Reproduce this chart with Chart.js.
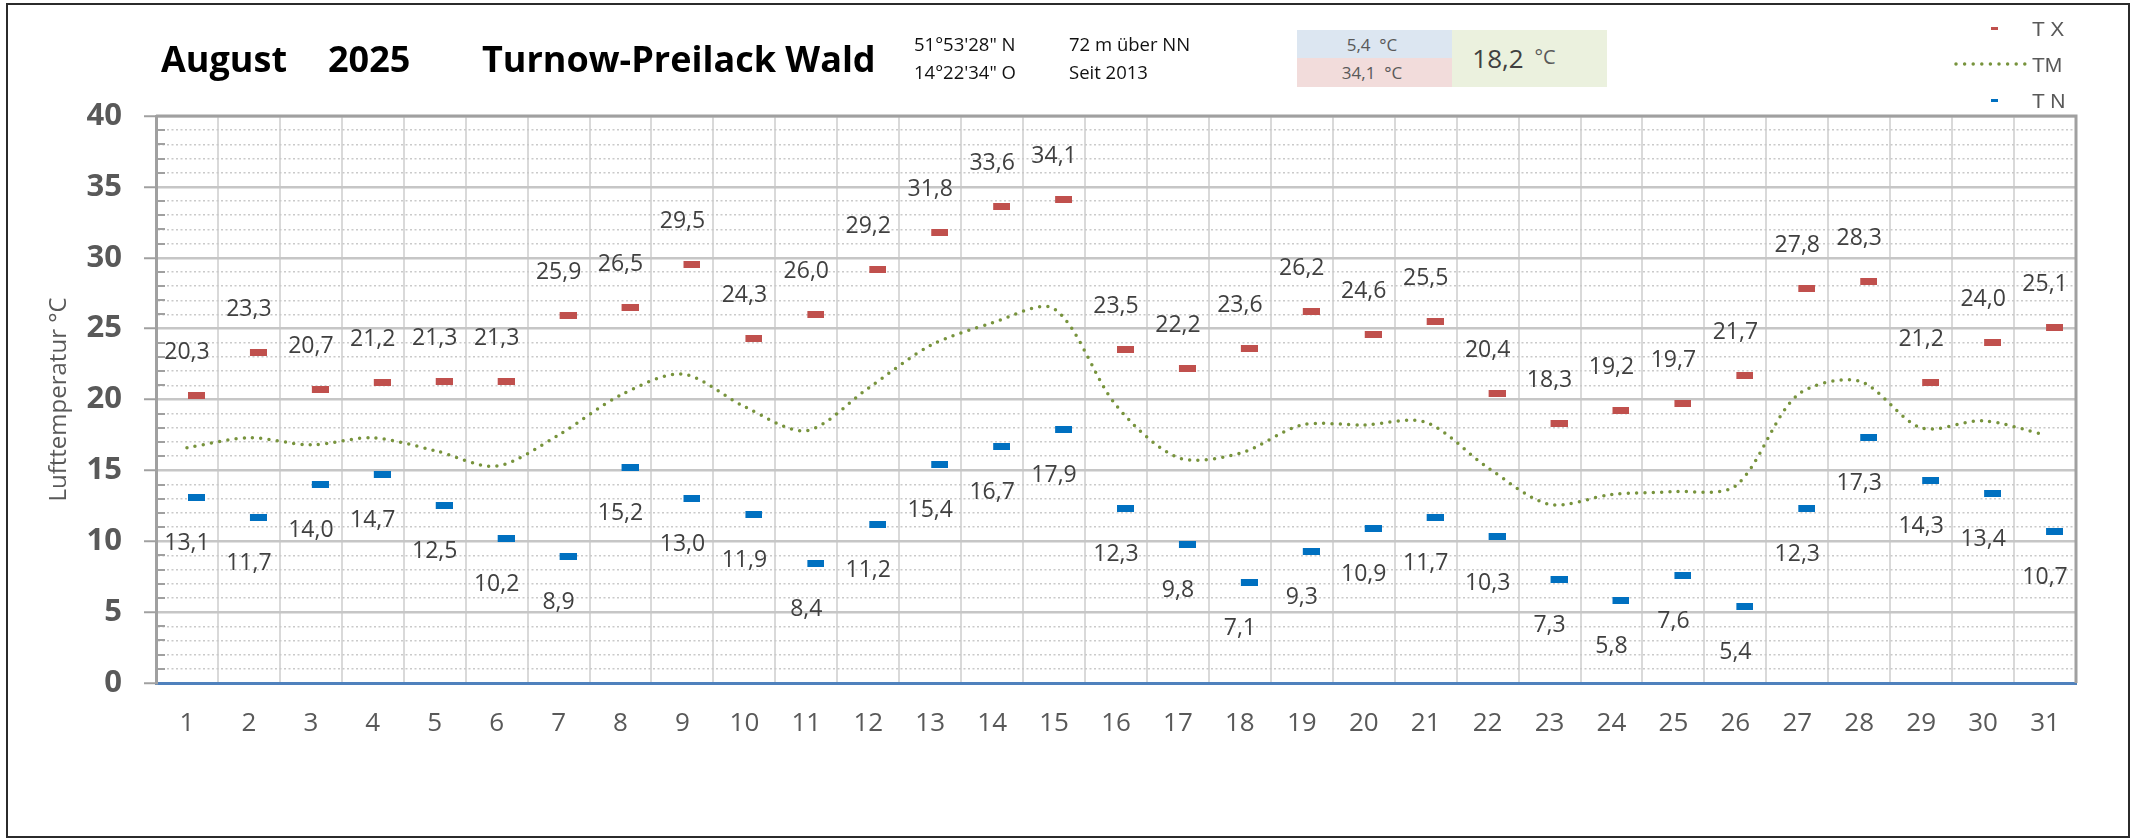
<!DOCTYPE html>
<html>
<head>
<meta charset="utf-8">
<script src="https://cdn.jsdelivr.net/npm/chart.js@4.4.1/dist/chart.umd.min.js"></script>
<style>
  body { margin: 0; background: #fff; }
  #wrap { position: relative; width: 2140px; height: 839px; overflow: hidden; font-family: 'Open Sans', sans-serif; }
  #frame { position: absolute; left: 6px; top: 3px; width: 2124px; height: 835px; box-sizing: border-box; border: 2px solid #2b2b2b; pointer-events: none; }
  .t { position: absolute; white-space: pre; line-height: 1; transform: translateY(-50%); }
  .title { font-size: 36px; font-weight: bold; color: #000; }
  .info { font-size: 18.5px; color: #111; }
  .cell { position: absolute; }
  .cell span { position: absolute; white-space: pre; line-height: 1; transform: translate(-50%, -50%); color: #595959; }
  .leg { font-family: 'Liberation Sans', Arial, sans-serif; font-size: 21px; color: #595959; }
  .mk { position: absolute; width: 7px; height: 3px; }
</style>
</head>
<body>
<div id="wrap">
  <canvas id="tempChart" width="2140" height="839"></canvas>
  <div id="header"></div>
  <div id="frame"></div>
</div>
<script>
const days = ['1','2','3','4','5','6','7','8','9','10','11','12','13','14','15','16',
              '17','18','19','20','21','22','23','24','25','26','27','28','29','30','31'];

// T X (max)
const tx = [20.3, 23.3, 20.7, 21.2, 21.3, 21.3, 25.9, 26.5, 29.5, 24.3, 26.0, 29.2, 31.8, 33.6, 34.1, 23.5,
            22.2, 23.6, 26.2, 24.6, 25.5, 20.4, 18.3, 19.2, 19.7, 21.7, 27.8, 28.3, 21.2, 24.0, 25.1];

// TM (mean)
const tm = [16.6, 17.3, 16.8, 17.3, 16.4, 15.3, 17.5, 20.3, 21.8, 19.5, 17.8, 20.8, 23.8, 25.4, 26.4, 19.6,
            15.9, 16.2, 18.2, 18.2, 18.4, 15.2, 12.6, 13.3, 13.5, 13.9, 20.3, 21.3, 18.0, 18.5, 17.5];

// T N (min)
const tn = [13.1, 11.7, 14.0, 14.7, 12.5, 10.2, 8.9, 15.2, 13.0, 11.9, 8.4, 11.2, 15.4, 16.7, 17.9, 12.3,
            9.8, 7.1, 9.3, 10.9, 11.7, 10.3, 7.3, 5.8, 7.6, 5.4, 12.3, 17.3, 14.3, 13.4, 10.7];

const seriesNames = ['T X', 'TM', 'T N'];
const titleParts = ['August', '2025', 'Turnow-Preilack Wald'];
const coordLines = ['51°53\'28" N', '14°22\'34" O'];
const siteLines = ['72 m über NN', 'Seit 2013'];
const monthMean = '18,2';
const yAxisTitle = 'Lufttemperatur °C';

const RED = '#C0504D';
const BLUE = '#0070C0';
const GREEN = '#77933C';

function fmt(v) {
    return v.toFixed(1).replace('.', ',');
}

// header: title, station info, summary box, legend
function buildHeader() {
    const h = document.getElementById('header');
    let html = '';
    const titleX = [161, 328, 482];
    titleParts.forEach((s, i) => {
        html += `<div class="t title" style="left:${titleX[i]}px;top:59px">${s}</div>`;
    });
    coordLines.forEach((s, i) => {
        html += `<div class="t info" style="left:914px;top:${44 + i * 28}px">${s}</div>`;
    });
    siteLines.forEach((s, i) => {
        html += `<div class="t info" style="left:1069px;top:${44 + i * 28}px">${s}</div>`;
    });

    const lo = fmt(Math.min(...tn));
    const hi = fmt(Math.max(...tx));
    html += `<div class="cell" style="left:1297px;top:30px;width:155px;height:28px;background:#DCE6F1">
               <span style="left:75px;top:14px;font-size:17px">${lo}  °C</span></div>`;
    html += `<div class="cell" style="left:1297px;top:58px;width:155px;height:29px;background:#F2DCDB">
               <span style="left:75px;top:14px;font-size:17px">${hi}  °C</span></div>`;
    html += `<div class="cell" style="left:1452px;top:30px;width:155px;height:57px;background:#EBF1DE">
               <span style="left:46px;top:28px;font-size:26px;color:#404040">${monthMean}</span>
               <span style="left:93px;top:27px;font-size:20px">°C</span></div>`;

    // legend
    html += `<div class="mk" style="left:1991px;top:27px;background:${RED}"></div>`;
    html += `<svg style="position:absolute;left:1952px;top:58px" width="80" height="12">
               <line x1="4" y1="6" x2="74" y2="6" stroke="${GREEN}" stroke-width="3.5"
                     stroke-linecap="round" stroke-dasharray="0 8.6"/></svg>`;
    html += `<div class="mk" style="left:1991px;top:99px;background:${BLUE}"></div>`;
    [28, 64, 100].forEach((y, i) => {
        html += `<div class="t leg" style="left:2032px;top:${y}px">${seriesNames[i]}</div>`;
    });
    h.innerHTML = html;
}

// dash shaped marker, drawn a little right of the category centre like in the sheet
function dashMarker(color) {
    const c = document.createElement('canvas');
    c.width = 36;
    c.height = 7;
    const g = c.getContext('2d');
    g.fillStyle = color;
    g.fillRect(19, 0, 17, 7);
    return c;
}

const valueLabels = {
    id: 'valueLabels',
    afterDatasetsDraw(chart) {
        const ctx = chart.ctx;
        ctx.save();
        ctx.font = '23px "Open Sans"';
        ctx.fillStyle = '#404040';
        ctx.textAlign = 'center';
        ctx.textBaseline = 'middle';
        chart.data.datasets.forEach((ds, i) => {
            if (!ds.labelShift) return;
            chart.getDatasetMeta(i).data.forEach((pt, j) => {
                ctx.fillText(fmt(ds.data[j]), pt.x, pt.y + ds.labelShift);
            });
        });
        ctx.restore();
    }
};

const plotFrame = {
    id: 'plotFrame',
    beforeDatasetsDraw(chart) {
        const {ctx, chartArea: a} = chart;
        const y = chart.scales.y;
        ctx.save();
        ctx.strokeStyle = '#A0A0A0';
        ctx.lineWidth = 3;
        ctx.beginPath();
        ctx.moveTo(a.left, a.top);
        ctx.lineTo(a.right, a.top);
        ctx.lineTo(a.right, a.bottom);
        ctx.stroke();
        // short inner ticks for the 1 degree steps
        ctx.lineWidth = 2;
        ctx.beginPath();
        y.ticks.forEach(t => {
            if (t.value % 5 !== 0) {
                const py = Math.round(y.getPixelForValue(t.value));
                ctx.moveTo(a.left, py);
                ctx.lineTo(a.left + 9, py);
            }
        });
        ctx.stroke();
        ctx.restore();
    }
};

const isMajor = c => c.tick && c.tick.value % 5 === 0;

buildHeader();

new Chart(document.getElementById('tempChart'), {
    type: 'line',
    data: {
        labels: days,
        datasets: [
            {
                label: seriesNames[0],
                data: tx,
                showLine: false,
                pointStyle: dashMarker(RED),
                pointRadius: 9,
                labelShift: -43
            },
            {
                label: seriesNames[1],
                data: tm,
                borderColor: GREEN,
                borderWidth: 3.5,
                borderDash: [0, 8.3],
                borderCapStyle: 'round',
                pointRadius: 0,
                tension: 0.3,
                fill: false
            },
            {
                label: seriesNames[2],
                data: tn,
                showLine: false,
                pointStyle: dashMarker(BLUE),
                pointRadius: 9,
                labelShift: 46
            }
        ]
    },
    options: {
        responsive: false,
        animation: false,
        devicePixelRatio: 1,
        layout: { padding: { left: 0, top: 116, right: 64, bottom: 0 } },
        plugins: {
            legend: { display: false },
            tooltip: { enabled: false }
        },
        scales: {
            x: {
                offset: true,
                grid: { offset: true, color: '#D9D9D9', lineWidth: 2, drawTicks: false },
                border: { color: '#4F81BD', width: 3 },
                ticks: {
                    font: { family: 'Open Sans', size: 26 },
                    color: '#595959',
                    padding: 25,
                    maxRotation: 0,
                    autoSkip: false
                },
                afterFit(s) { s.height = 156; }
            },
            y: {
                min: 0,
                max: 40,
                grid: {
                    color: c => isMajor(c) ? '#C6C6C6' : '#CACACA',
                    lineWidth: c => isMajor(c) ? 2.5 : 1.5,
                    tickColor: c => isMajor(c) ? '#A0A0A0' : 'rgba(0,0,0,0)',
                    tickLength: 12,
                    tickWidth: 2
                },
                border: {
                    color: '#A0A0A0',
                    width: 3,
                    dash: c => (c.tick && c.tick.value % 5 !== 0) ? [2, 2.5] : []
                },
                ticks: {
                    stepSize: 1,
                    autoSkip: false,
                    callback: v => v % 5 === 0 ? v : '',
                    font: { family: 'Open Sans', size: 31, weight: 'bold' },
                    color: '#595959',
                    padding: 22
                },
                title: {
                    display: true,
                    text: yAxisTitle,
                    font: { family: 'Open Sans', size: 24 },
                    color: '#595959',
                    padding: { top: 45, bottom: 0 }
                },
                afterFit(s) { s.width = 156; }
            }
        }
    },
    plugins: [plotFrame, valueLabels]
});
</script>
</body>
</html>
